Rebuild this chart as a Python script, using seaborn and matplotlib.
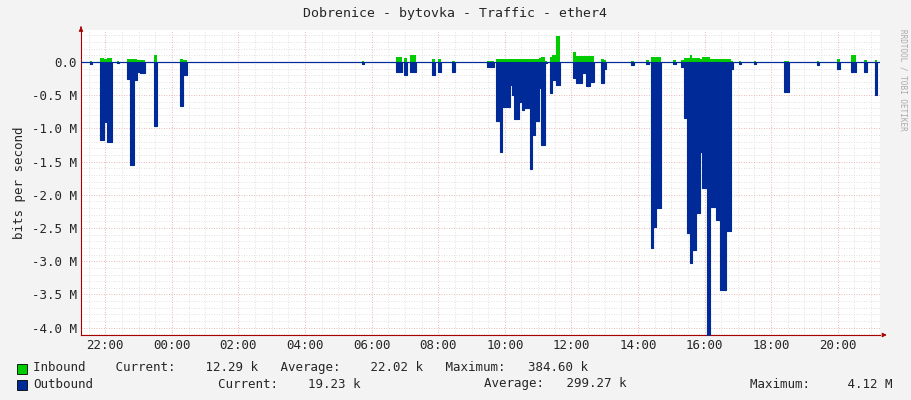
import numpy as np
import pandas as pd
import matplotlib
matplotlib.use("Agg")
import matplotlib.pyplot as plt
import seaborn as sns

# segments: start hour, end hour (relative to 00:00), outbound (M, negative), inbound (M)
seg_start = [-2.46, -2.16, -2.04, -1.95, -1.65, -1.35, -1.26, -1.14, -1.05, -0.96, -0.54, 0.24, 0.33,
             5.70, 6.72, 6.96, 7.14, 7.80, 7.98, 8.40,
             9.48, 9.75, 9.87, 9.93, 10.17, 10.23, 10.29, 10.44, 10.53, 10.59, 10.77, 10.83, 10.92, 11.04, 11.10, 11.22,
             11.37, 11.43, 11.55, 12.06, 12.15, 12.33, 12.45, 12.57, 12.90, 12.99,
             13.80, 14.25, 14.40, 14.46, 14.55, 15.06, 15.30, 15.39, 15.48, 15.57, 15.63, 15.75, 15.87, 15.93, 16.08,
             16.17, 16.35, 16.47, 16.65, 16.80, 17.04, 17.49, 18.39, 19.38, 19.98, 20.40, 20.79, 21.12]
seg_end = [-2.40, -2.04, -1.95, -1.80, -1.59, -1.26, -1.14, -1.05, -0.96, -0.81, -0.45, 0.33, 0.45,
           5.76, 6.90, 7.05, 7.32, 7.89, 8.07, 8.49,
           9.69, 9.87, 9.93, 10.17, 10.23, 10.29, 10.44, 10.53, 10.59, 10.77, 10.83, 10.92, 11.04, 11.10, 11.22, 11.28,
           11.43, 11.55, 11.67, 12.15, 12.33, 12.45, 12.57, 12.69, 12.99, 13.05,
           13.89, 14.34, 14.46, 14.55, 14.70, 15.15, 15.39, 15.48, 15.57, 15.63, 15.75, 15.87, 15.93, 16.08, 16.17,
           16.35, 16.47, 16.65, 16.80, 16.86, 17.10, 17.55, 18.54, 19.44, 20.07, 20.55, 20.88, 21.18]
outbound = [-0.03, -1.17, -0.90, -1.20, -0.02, -0.25, -1.55, -0.27, -0.15, -0.17, -0.96, -0.66, -0.20,
            -0.03, -0.15, -0.20, -0.15, -0.20, -0.15, -0.15,
            -0.07, -0.89, -1.35, -0.68, -0.35, -0.50, -0.86, -0.60, -0.72, -0.70, -1.61, -1.10, -0.89, -0.39, -1.25, -0.02,
            -0.47, -0.27, -0.35, -0.24, -0.32, -0.17, -0.36, -0.30, -0.32, -0.10,
            -0.05, -0.03, -2.80, -2.48, -2.20, -0.03, -0.08, -0.84, -2.58, -3.02, -2.83, -2.27, -1.35, -1.90, -4.12,
            -2.18, -2.38, -3.43, -2.54, -0.10, -0.03, -0.03, -0.45, -0.05, -0.10, -0.15, -0.15, -0.50]
inbound = [0.01, 0.06, 0.05, 0.06, 0.01, 0.05, 0.05, 0.05, 0.03, 0.03, 0.10, 0.05, 0.03,
           0.01, 0.08, 0.06, 0.10, 0.05, 0.04, 0.02,
           0.02, 0.05, 0.05, 0.05, 0.05, 0.05, 0.05, 0.05, 0.05, 0.05, 0.05, 0.05, 0.05, 0.06, 0.08, 0.02,
           0.08, 0.10, 0.39, 0.15, 0.09, 0.09, 0.09, 0.09, 0.05, 0.03,
           0.01, 0.03, 0.07, 0.07, 0.07, 0.03, 0.03, 0.06, 0.06, 0.10, 0.06, 0.06, 0.04, 0.08, 0.08,
           0.04, 0.04, 0.04, 0.04, 0.02, 0.01, 0.01, 0.02, 0.02, 0.05, 0.10, 0.03, 0.03]

tick_hours = [-2, 0, 2, 4, 6, 8, 10, 12, 14, 16, 18, 20]
tick_labels = ["22:00", "00:00", "02:00", "04:00", "06:00", "08:00", "10:00", "12:00", "14:00", "16:00", "18:00", "20:00"]
ytick_vals = [0.0, -0.5, -1.0, -1.5, -2.0, -2.5, -3.0, -3.5, -4.0]
ytick_labels = ["0.0", "-0.5 M", "-1.0 M", "-1.5 M", "-2.0 M", "-2.5 M", "-3.0 M", "-3.5 M", "-4.0 M"]

sns.set_style("white")
plt.rcParams['font.family'] = ['DejaVu Sans Mono']
plt.rcParams['font.size'] = 7.5

x0, x1 = -2.73, 21.27
xs, yo, yi = [x0], [0.0], [0.0]
for s, e, o, i in zip(seg_start, seg_end, outbound, inbound):
    xs += [s, s, e, e]
    yo += [0.0, o, o, 0.0]
    yi += [0.0, i, i, 0.0]
xs.append(x1); yo.append(0.0); yi.append(0.0)
df = pd.DataFrame({"t": xs, "out": yo, "in": yi})

bg = "#F3F3F3"
fig = plt.figure(figsize=(9.11, 4.0), dpi=100, facecolor=bg)
ax = fig.add_axes([81/911, 1-335/400, 799/911, 305/400])
ax.set_facecolor("white")
ax.set_xlim(x0, x1)
ax.set_ylim(-4.11, 0.48)

for h in np.arange(-2.5, 21.3, 0.5):
    major = abs(h/2 - round(h/2)) < 1e-6
    ax.axvline(h, color="#E0A0A0" if major else "#D8D8D8", lw=0.6, ls=(0, (1, 2)), zorder=0)
for v in np.arange(-4.1, 0.5, 0.1):
    major = abs(v/0.5 - round(v/0.5)) < 1e-6
    ax.axhline(v, color="#E0A0A0" if major else "#D8D8D8", lw=0.6, ls=(0, (1, 2)), zorder=0)

ax.fill_between(df["t"], 0, df["in"], color="#00CC00", lw=0, zorder=2)
ax.fill_between(df["t"], 0, df["out"], color="#002A97", lw=0, zorder=3)
sns.lineplot(data=df, x="t", y="out", color="#002A97", lw=0.8, ax=ax, zorder=4,
             estimator=None, sort=False)
ax.axhline(0, color="#002A97", lw=0.8, zorder=4)

ax.set_xticks(tick_hours)
ax.set_xticklabels(tick_labels, fontsize=9)
ax.set_yticks(ytick_vals)
ax.set_yticklabels(ytick_labels, fontsize=9)
ax.tick_params(length=0, pad=3)
ax.set_xlabel("")
ax.set_ylabel("bits per second", fontsize=9, labelpad=4)
for s in ["top", "right"]:
    ax.spines[s].set_visible(False)
for s in ["left", "bottom"]:
    ax.spines[s].set_color("#AA0000")
    ax.spines[s].set_linewidth(0.8)
ax.annotate("", xy=(1.012, 0), xycoords="axes fraction", xytext=(1.0, 0),
            arrowprops=dict(arrowstyle="-|>", color="#AA0000", lw=0.8, mutation_scale=6), annotation_clip=False)
ax.annotate("", xy=(0, 1.02), xycoords="axes fraction", xytext=(0, 1.0),
            arrowprops=dict(arrowstyle="-|>", color="#AA0000", lw=0.8, mutation_scale=6), annotation_clip=False)

fig.text(455/911, 1-14/400, "Dobrenice - bytovka - Traffic - ether4", ha="center", va="center", fontsize=9.5)
fig.text(903/911, 1-80/400, "RRDTOOL / TOBI OETIKER", rotation=270, ha="center", va="center",
         fontsize=5.5, color="#AAAAAA")

def legend_row(y, color, texts):
    fig.patches.append(plt.Rectangle((17/911, 1-(y+6)/400), 10/911, 10/400, transform=fig.transFigure,
                                     facecolor=color, edgecolor="black", lw=0.6))
    for xp, t in texts:
        fig.text(xp/911, 1-y/400, t, ha="left", va="center", fontsize=9)

legend_row(368, "#00CC00", [(33, "Inbound    Current:    12.29 k   Average:    22.02 k   Maximum:   384.60 k")])
legend_row(384, "#002A97", [(33, "Outbound"), (218, "Current:    19.23 k"), (484, "Average:   299.27 k"),
                            (750, "Maximum:     4.12 M")])

fig.savefig("out.png", dpi=100, facecolor=bg)
